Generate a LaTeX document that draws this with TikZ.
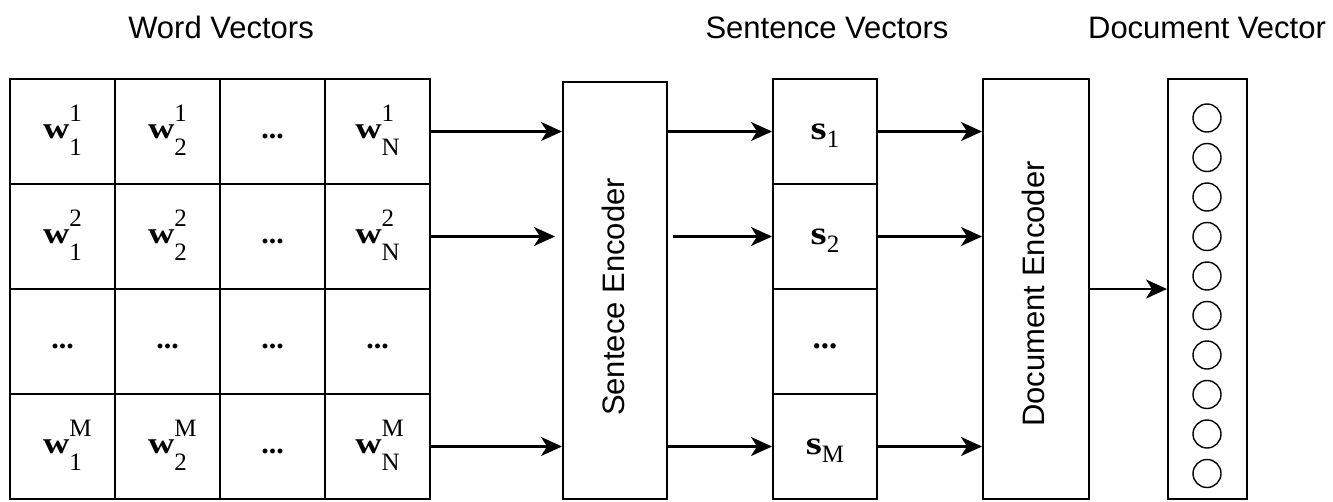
\documentclass[tikz,border=0pt]{standalone}
\usepackage{fontspec}
\usepackage{graphicx}
\setmainfont{Liberation Serif}
\setsansfont{Liberation Sans}
\usetikzlibrary{arrows.meta}

% word vector entry: bold w with stacked super/subscript
\newcommand{\scr}{\fontsize{25}{27}\selectfont}
\newcommand{\wv}[2]{\textbf{\scalebox{1.22}[1]{w}}\smash{\raisebox{17pt}{\makebox[0pt][l]{\scr #1}}\raisebox{-17pt}{\scr #2}}}
\newcommand{\sv}[1]{\textbf{\scalebox{1.25}[1]{s}}\smash{\raisebox{-8pt}{\scr #1}}}
\newcommand{\ellip}{\textbf{...}\vphantom{w}}

\begin{document}
\begin{tikzpicture}[x=1pt,y=-1pt,
  box/.style={draw, line width=2pt, inner sep=0pt},
  cell/.style={box, minimum width=105pt, minimum height=105pt,
    font=\fontsize{30}{34}\selectfont},
  svcell/.style={box, minimum width=104pt, minimum height=105pt,
    font=\fontsize{33}{36}\selectfont},
  title/.style={anchor=base, font=\sffamily\fontsize{31}{34}\selectfont},
  vlabel/.style={rotate=90, font=\sffamily\fontsize{31}{34}\selectfont},
  unit/.style={draw, circle, line width=1.4pt, minimum size=28pt, inner sep=0pt},
  arr/.style={line width=2.2pt, -{Stealth[length=21pt,width=19pt,inset=6pt]}}]

\useasboundingbox (0,0) rectangle (1333,501);

% titles
\node[title] (t1) at (221,38) {Word Vectors};
\node[title] (t2) at (827,38) {Sentence Vectors};
\node[title] (t3) at (1207,38) {Document Vector};

% word vector grid
\node[cell] (g11) at (62.5,131.5) {\wv{1}{1}};
\node[cell] (g12) at (167.5,131.5) {\wv{1}{2}};
\node[cell] (g13) at (272.5,131.5) {\ellip};
\node[cell] (g14) at (377.5,131.5) {\wv{1}{N}};
\node[cell] (g21) at (62.5,236.5) {\wv{2}{1}};
\node[cell] (g22) at (167.5,236.5) {\wv{2}{2}};
\node[cell] (g23) at (272.5,236.5) {\ellip};
\node[cell] (g24) at (377.5,236.5) {\wv{2}{N}};
\node[cell] (g31) at (62.5,341.5) {\ellip};
\node[cell] (g32) at (167.5,341.5) {\ellip};
\node[cell] (g33) at (272.5,341.5) {\ellip};
\node[cell] (g34) at (377.5,341.5) {\ellip};
\node[cell] (g41) at (62.5,446.5) {\wv{M}{1}};
\node[cell] (g42) at (167.5,446.5) {\wv{M}{2}};
\node[cell] (g43) at (272.5,446.5) {\ellip};
\node[cell] (g44) at (377.5,446.5) {\wv{M}{N}};

% sentence encoder
\node[box, minimum width=104pt, minimum height=417pt] (senc) at (615,290.5) {};
\node[vlabel] (senclabel) at (613,297) {Sentece Encoder};

% sentence vectors
\node[svcell] (s1) at (825,131.5) {\sv{1}};
\node[svcell] (s2) at (825,236.5) {\sv{2}};
\node[svcell] (s3) at (825,341.5) {\ellip};
\node[svcell] (s4) at (825,446.5) {\sv{M}};

% document encoder
\node[box, minimum width=106pt, minimum height=420pt] (denc) at (1036,289) {};
\node[vlabel] (denclabel) at (1033,294) {Document Encoder};

% document vector
\node[box, minimum width=79pt, minimum height=420pt] (dvec) at (1207.5,289) {};
\foreach \i in {0,...,9}
  \node[unit] (c\i) at (1207,118+39.5*\i) {};

% connectors
\draw[arr] (g14.east) -- (g14.east -| senc.west);
\draw[arr, shorten >=7pt] (g24.east) -- (g24.east -| senc.west);
\draw[arr] (g44.east) -- (g44.east -| senc.west);

\draw[arr] (s1.west -| senc.east) -- (s1.west);
\draw[arr, shorten <=5pt] (s2.west -| senc.east) -- (s2.west);
\draw[arr] (s4.west -| senc.east) -- (s4.west);

\draw[arr] (s1.east) -- (s1.east -| denc.west);
\draw[arr] (s2.east) -- (s2.east -| denc.west);
\draw[arr] (s4.east) -- (s4.east -| denc.west);

\draw[arr] (denc.east) -- (denc.east -| dvec.west);
\end{tikzpicture}
\end{document}
